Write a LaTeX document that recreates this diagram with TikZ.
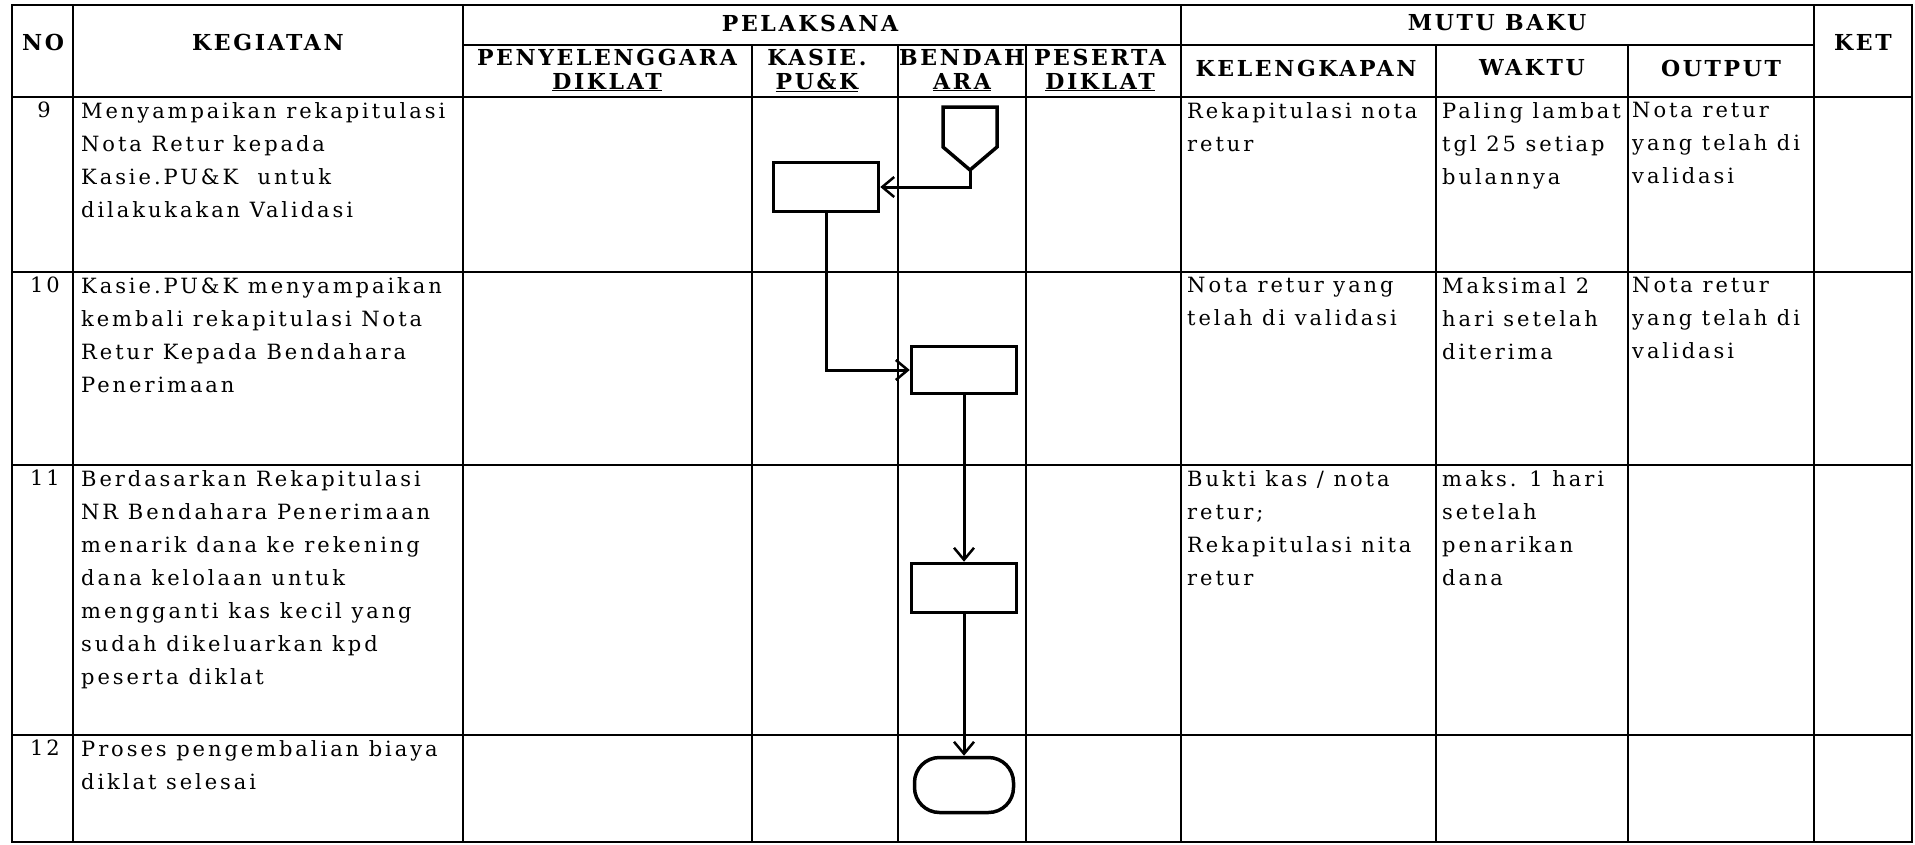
\documentclass[tikz,border=0pt]{standalone}
\usepackage{fontspec}
\setmainfont{DejaVu Serif}
\newfontfamily\bodyfont{DejaVu Serif}[LetterSpace=14]
\newfontfamily\hdfont{DejaVu Serif}[LetterSpace=12]
\usetikzlibrary{arrows.meta}
\begin{document}
\begin{tikzpicture}[x=1pt,y=-1pt]
\tikzset{
  grid/.style={line width=1.8pt, black},
  hd/.style={font=\hdfont\bfseries\fontsize{22}{24}\selectfont, align=center, inner sep=0pt},
  body/.style={font=\bodyfont\fontsize{21}{33}\selectfont, align=left, anchor=north west, inner sep=0pt},
  num/.style={font=\bodyfont\fontsize{21}{33}\selectfont, anchor=north, inner sep=0pt},
  proc/.style={draw, line width=3.5pt, minimum width=105pt, minimum height=49pt, inner sep=0pt},
  term/.style={draw, line width=3.5pt, rounded corners=25pt, minimum width=99pt, minimum height=55pt, inner sep=0pt},
  flow/.style={line width=3pt, -{Straight Barb[length=12pt,width=20pt,line width=2.5pt]}},
  offpage/.style={line width=3.5pt, line join=miter}
}
\useasboundingbox (0,0) rectangle (1915,844);
\fill[white] (0,0) rectangle (1915,844);

% table grid
\draw[grid] (12,5) rectangle (1912,842);
\foreach \yy in {97,272,465,735} \draw[grid] (12,\yy) -- (1912,\yy);
\draw[grid] (463,45) -- (1814,45);
\foreach \xx in {73,463,1181,1814} \draw[grid] (\xx,5) -- (\xx,842);
\foreach \xx in {752,898,1026,1436,1628} \draw[grid] (\xx,45) -- (\xx,842);

% header
\node[hd] (hno) at (43,42) {NO};
\node[hd] (hkeg) at (268,42) {KEGIATAN};
\node[hd] (hpel) at (810,23) {PELAKSANA};
\node[hd] (hmutu) at (1497,23) {MUTU BAKU};
\node[hd] (hket) at (1863,42) {KET};
\node[hd] (hpen) at (607,70) {PENYELENGGARA\\\underline{DIKLAT}};
\node[hd] (hkas) at (817,70) {KASIE.\\\underline{PU\&K}};
\node[hd] (hben) at (962,70) {BENDAH\\\underline{ARA}};
\node[hd] (hpes) at (1100,70) {PESERTA\\\underline{DIKLAT}};
\node[hd] (hkel) at (1306,68) {KELENGKAPAN};
\node[hd] (hwak) at (1532,68) {WAKTU};
\node[hd] (hout) at (1721,68) {OUTPUT};

% row 9
\node[num] (n9) at (44,102) {9};
\node[body] (k9) at (81,102) {Menyampaikan rekapitulasi\\Nota Retur kepada\\Kasie.PU\&K\ \ untuk\\dilakukakan Validasi};
\node[body] (l9) at (1187,102) {Rekapitulasi nota\\retur};
\node[body] (w9) at (1442,102) {Paling lambat\\tgl 25 setiap\\bulannya};
\node[body] (o9) at (1632,102) {Nota retur\\yang telah di\\validasi};

% row 10
\node[num] (n10) at (45,277) {10};
\node[body] (k10) at (81,277) {Kasie.PU\&K menyampaikan\\kembali rekapitulasi Nota\\Retur Kepada Bendahara\\Penerimaan};
\node[body] (l10) at (1187,277) {Nota retur yang\\telah di validasi};
\node[body] (w10) at (1442,277) {Maksimal 2\\hari setelah\\diterima};
\node[body] (o10) at (1632,277) {Nota retur\\yang telah di\\validasi};

% row 11
\node[num] (n11) at (45,470) {11};
\node[body] (k11) at (81,470) {Berdasarkan Rekapitulasi\\NR Bendahara Penerimaan\\menarik dana ke rekening\\dana kelolaan untuk\\mengganti kas kecil yang\\sudah dikeluarkan kpd\\peserta diklat};
\node[body] (l11) at (1187,470) {Bukti kas / nota\\retur;\\Rekapitulasi nita\\retur};
\node[body] (w11) at (1442,470) {maks. 1 hari\\setelah\\penarikan\\dana};

% row 12
\node[num] (n12) at (45,740) {12};
\node[body] (k12) at (81,740) {Proses pengembalian biaya\\diklat selesai};

% flowchart
\draw[offpage] (943,107) -- (997,107) -- (997,147) -- (970,170) -- (943,147) -- cycle;
\coordinate (offtip) at (970,170);
\node[proc] (r1) at (826,187) {};
\node[proc, minimum height=47pt] (r2) at (964,370) {};
\node[proc] (r3) at (964,588) {};
\node[term] (t) at (964,785) {};

\draw[flow] (offtip) |- (r1.east);
\draw[flow] (r1.south) |- (r2.west);
\draw[flow] (r2.south) -- (r3.north);
\draw[flow] (r3.south) -- (t.north);
\end{tikzpicture}
\end{document}
